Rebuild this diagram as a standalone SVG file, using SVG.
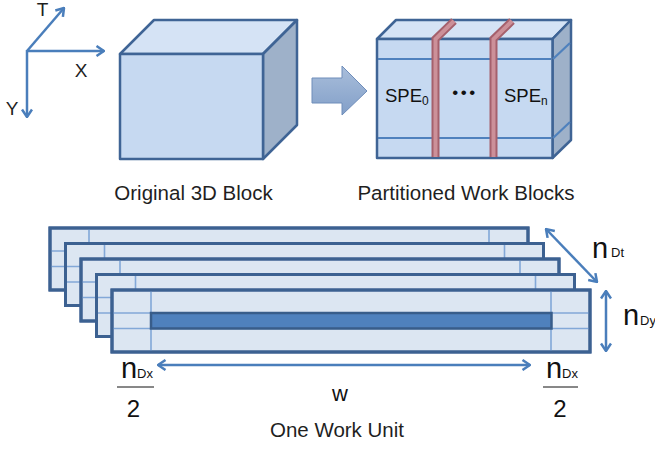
<svg xmlns="http://www.w3.org/2000/svg" width="655" height="456" viewBox="0 0 655 456">
<defs>
<style>
.lbl{font-family:"Liberation Sans",Arial,sans-serif;font-size:20.5px;fill:#1f1f1f}
.ax{font-family:"Liberation Sans",Arial,sans-serif;font-size:19px;fill:#1f1f1f}
.cube{stroke:#3f6495;stroke-width:2.5;stroke-linejoin:round}
.wu{fill:#dce6f2;stroke:#3c6191;stroke-width:3}
.inner{stroke:#82a8d8;stroke-width:1.6;fill:none}
.blue{stroke:#4f81bd;stroke-width:2.2;fill:none}
.bandO{stroke:#a5606c;stroke-width:8;fill:none}
.bandI{stroke:#cc9099;stroke-width:4;fill:none}
.conn{stroke:#4a7ebb;stroke-width:2.5;fill:none}
.big{font-family:"Liberation Sans",Arial,sans-serif;fill:#111}
</style>
<marker id="ah" viewBox="0 0 10 12" refX="9" refY="6" markerWidth="10" markerHeight="12" markerUnits="userSpaceOnUse" orient="auto-start-reverse">
<path d="M1.5,1 L9,6 L1.5,11" fill="none" stroke="#4a7ebb" stroke-width="2.5"/>
</marker>
<linearGradient id="ag" x1="0" y1="0" x2="0" y2="1">
<stop offset="0" stop-color="#a9bedb"/>
<stop offset="1" stop-color="#829fc8"/>
</linearGradient>
</defs>

<g id="cube-original">
<polygon class="cube" points="120,54 154,20 297,20 263,54" fill="#d5e3f5"/>
<polygon class="cube" points="263,54 297,20 297,125 263,159" fill="#9eb1c9"/>
<rect class="cube" x="120" y="54" width="143" height="105" fill="#c6d9f1"/>
</g>

<g id="cube-partitioned">
<polygon class="cube" points="377,39 396,20 571,20 552.5,39" fill="#d5e3f5"/>
<polygon class="cube" points="552.5,39 571,20 571,140 552.5,158" fill="#9eb1c9"/>
<rect class="cube" x="377" y="39" width="175.5" height="119" fill="#c6d9f1"/>
<line class="blue" x1="378" y1="59" x2="551" y2="59"/>
<line class="blue" x1="378" y1="138" x2="551" y2="138"/>
<line class="blue" x1="553" y1="59" x2="570" y2="43"/>
<line class="blue" x1="553" y1="138" x2="570" y2="122"/>
<path class="bandO" d="M435.5,157 V39 L454,21"/>
<path class="bandI" d="M435.5,157 V39 L454,21"/>
<path class="bandO" d="M493.5,157 V39 L512,21"/>
<path class="bandI" d="M493.5,157 V39 L512,21"/>
<text class="big" x="385" y="102" style="font-size:18.5px">SPE<tspan dy="3" style="font-size:12px">0</tspan></text>
<text class="big" x="504" y="102" style="font-size:18.5px">SPE<tspan dy="3" style="font-size:12px">n</tspan></text>
<text class="big" x="465" y="98" style="font-size:17px;letter-spacing:2.5px" text-anchor="middle">•••</text>
</g>

<g id="work-unit-1">
<rect class="wu" x="50" y="228" width="478" height="62"/>
<path class="inner" d="M50,251 H528 M50,266.5 H528 M89,228 V290 M489,228 V290"/>
<rect x="50" y="228" width="478" height="62" fill="none" stroke="#3c6191" stroke-width="3"/>
</g>
<g id="work-unit-2">
<rect class="wu" x="65.5" y="243.5" width="478" height="62"/>
<path class="inner" d="M65.5,266.5 H543.5 M65.5,282 H543.5 M104.5,243.5 V305.5 M504.5,243.5 V305.5"/>
<rect x="65.5" y="243.5" width="478" height="62" fill="none" stroke="#3c6191" stroke-width="3"/>
</g>
<g id="work-unit-3">
<rect class="wu" x="81" y="259" width="478" height="62"/>
<path class="inner" d="M81,282 H559 M81,297.5 H559 M120,259 V321 M520,259 V321"/>
<rect x="81" y="259" width="478" height="62" fill="none" stroke="#3c6191" stroke-width="3"/>
</g>
<g id="work-unit-4">
<rect class="wu" x="96.5" y="274.5" width="478" height="62"/>
<path class="inner" d="M96.5,297.5 H574.5 M96.5,313 H574.5 M135.5,274.5 V336.5 M535.5,274.5 V336.5"/>
<rect x="96.5" y="274.5" width="478" height="62" fill="none" stroke="#3c6191" stroke-width="3"/>
</g>
<g id="work-unit-5">
<rect class="wu" x="112" y="290" width="478" height="62"/>
<path class="inner" d="M112,313 H590 M112,328.5 H590 M151,290 V352 M551,290 V352"/>
<rect x="151" y="313" width="400.5" height="15.5" fill="#4f81bd" stroke="#385d8a" stroke-width="2.5"/>
<rect x="112" y="290" width="478" height="62" fill="none" stroke="#3c6191" stroke-width="3"/>
</g>

<g id="connectors">
<line class="conn" x1="27" y1="51" x2="64" y2="8" marker-end="url(#ah)"/>
<line class="conn" x1="27" y1="51" x2="104" y2="51" marker-end="url(#ah)"/>
<line class="conn" x1="27" y1="50" x2="27" y2="117" marker-end="url(#ah)"/>
<polygon points="312,78 342,78 342,66 367,91 342,115 342,103 312,103" fill="url(#ag)" stroke="#6f8dba" stroke-width="1"/>
<line class="conn" x1="546" y1="229" x2="597" y2="282" marker-start="url(#ah)" marker-end="url(#ah)"/>
<line class="conn" x1="606" y1="291" x2="606" y2="351" marker-start="url(#ah)" marker-end="url(#ah)"/>
<line class="conn" x1="158" y1="365" x2="530" y2="365" marker-start="url(#ah)" marker-end="url(#ah)"/>
</g>

<g id="labels">
<text class="ax" x="42.5" y="16" text-anchor="middle">T</text>
<text class="ax" x="81" y="77" text-anchor="middle">X</text>
<text class="ax" x="12" y="115" text-anchor="middle">Y</text>
<text class="lbl" x="193.5" y="200" text-anchor="middle">Original 3D Block</text>
<text class="lbl" x="466" y="200" text-anchor="middle">Partitioned Work Blocks</text>
<text class="lbl" x="337" y="437" text-anchor="middle">One Work Unit</text>
<text class="big" x="592" y="258" font-size="29">n</text>
<text class="big" x="611" y="257" font-size="13">Dt</text>
<text class="big" x="623" y="325" font-size="29">n</text>
<text class="big" x="640" y="325" font-size="13">Dy</text>
<text class="big" x="121" y="378" font-size="29">n</text>
<text class="big" x="137" y="378" font-size="13">Dx</text>
<line x1="117" y1="387" x2="154" y2="387" stroke="#111" stroke-width="1"/>
<text class="big" x="133.5" y="417" font-size="24" text-anchor="middle">2</text>
<text class="big" x="546" y="378" font-size="29">n</text>
<text class="big" x="562" y="378" font-size="13">Dx</text>
<line x1="543" y1="387" x2="578" y2="387" stroke="#111" stroke-width="1"/>
<text class="big" x="560" y="417" font-size="24" text-anchor="middle">2</text>
<text class="big" x="340" y="401" font-size="22" text-anchor="middle">w</text>
</g>
</svg>
